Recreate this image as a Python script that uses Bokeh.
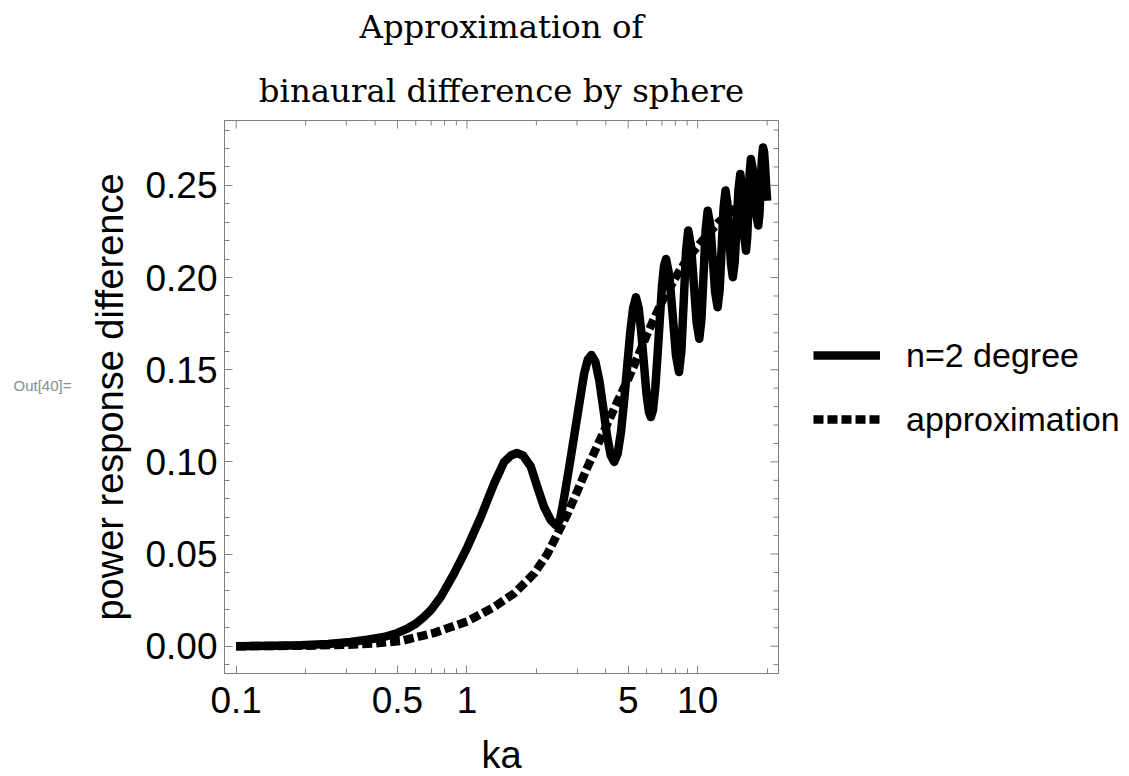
import math
from bokeh.plotting import figure
from bokeh.layouts import row, column
from bokeh.models import (FixedTicker, Legend, LegendItem, NumeralTickFormatter, Range1d)
from bokeh.embed import file_html
from bokeh.resources import INLINE

# ---------------- data ----------------
title_lines = ["Approximation of", "binaural difference by sphere"]
x_label = "ka"
y_label = "power response difference"
out_label = "Out[40]="
series_names = ["n=2 degree", "approximation"]

x_major = [0.1, 0.5, 1, 5, 10]
x_major_labels = ["0.1", "0.5", "1", "5", "10"]
x_minor = [0.2, 0.3, 0.4, 0.6, 0.7, 0.8, 0.9, 2, 3, 4, 6, 7, 8, 9, 20]
y_major = [0.0, 0.05, 0.10, 0.15, 0.20, 0.25]
y_minor = [-0.01, 0.01, 0.02, 0.03, 0.04, 0.06, 0.07, 0.08, 0.09,
           0.11, 0.12, 0.13, 0.14, 0.16, 0.17, 0.18, 0.19,
           0.21, 0.22, 0.23, 0.24, 0.26, 0.27, 0.28]

# n=2 degree (solid)
exact_x = [0.1, 0.15, 0.19, 0.25, 0.313, 0.37, 0.437, 0.5, 0.552, 0.6, 0.651, 0.7,
           0.77, 0.879, 1.005, 1.148, 1.311, 1.449, 1.55, 1.645, 1.75, 1.891, 2.02,
           2.16, 2.31, 2.43, 2.53, 2.64, 2.82, 3.02, 3.22, 3.34, 3.46, 3.6, 3.75,
           3.9, 4.05, 4.2, 4.35, 4.5, 4.65, 4.8, 4.95, 5.1, 5.25, 5.4, 5.55, 5.7,
           5.85, 6.0, 6.15, 6.27, 6.4, 6.55, 6.7, 6.85, 7.0, 7.15, 7.29, 7.54,
           7.795, 8.05, 8.3, 8.5, 8.7, 8.9, 9.1, 9.365, 9.63, 9.895, 10.16, 10.38,
           10.605, 10.83, 11.05, 11.34, 11.625, 11.91, 12.2, 12.45, 12.7, 12.95,
           13.2, 13.45, 13.7, 13.95, 14.2, 14.475, 14.75, 15.025, 15.3, 15.525,
           15.75, 15.975, 16.2, 16.4, 16.6, 16.8, 17.0, 17.325, 17.65, 17.975,
           18.3, 18.525, 18.75, 18.975, 19.2, 19.4, 19.6, 19.8, 20.0]
exact_y = [0.0, 0.0002, 0.0005, 0.0012, 0.0023, 0.0035, 0.005, 0.0072, 0.0096, 0.0122,
           0.0159, 0.0198, 0.0267, 0.0394, 0.0538, 0.0701, 0.0882, 0.0999, 0.1035,
           0.1048, 0.1035, 0.0975, 0.0863, 0.0755, 0.0683, 0.0656, 0.0685, 0.0809,
           0.1026, 0.1261, 0.1478, 0.1555, 0.158, 0.1545, 0.144, 0.129, 0.114,
           0.1035, 0.100, 0.1045, 0.116, 0.133, 0.152, 0.170, 0.1835, 0.1893,
           0.1835, 0.170, 0.153, 0.137, 0.127, 0.1243, 0.128, 0.140, 0.158, 0.177,
           0.195, 0.2065, 0.2101, 0.2009, 0.1794, 0.1579, 0.1487, 0.1602, 0.1871,
           0.214, 0.2255, 0.2167, 0.1962, 0.1756, 0.1668, 0.1772, 0.2016, 0.2259,
           0.2363, 0.2284, 0.2101, 0.1918, 0.1839, 0.1934, 0.2156, 0.2377, 0.2472,
           0.2402, 0.2237, 0.2072, 0.2002, 0.2086, 0.2282, 0.2478, 0.2562, 0.25,
           0.2354, 0.2208, 0.2146, 0.2221, 0.2395, 0.2568, 0.2643, 0.2589, 0.2463,
           0.2336, 0.2282, 0.2346, 0.2494, 0.2642, 0.2706, 0.268, 0.26, 0.25, 0.2417]

# approximation (dashed)
approx_x = [0.1, 0.2, 0.3, 0.4, 0.516, 0.72, 1.005, 1.311, 1.6, 1.955, 2.235, 2.47,
            2.73, 3.02, 3.33, 3.68, 4.07, 4.5, 5.0, 5.5, 6.07, 7.0, 8.1, 9.0, 10.16,
            12.3, 15.4, 17.6, 20.0]
approx_y = [0.0, 0.0003, 0.0008, 0.0016, 0.0028, 0.0072, 0.0135, 0.0213, 0.0286,
            0.0394, 0.0502, 0.0611, 0.0719, 0.0846, 0.0972, 0.109, 0.121, 0.133,
            0.145, 0.157, 0.170, 0.187, 0.201, 0.210, 0.218, 0.230, 0.240, 0.248,
            0.252]

x_lim = (0.089, 22.4)
y_lim = (-0.0148, 0.2852)

# ---------------- styling / layout ----------------
FRAME = "#808080"
SANS = "Liberation Sans"
SERIF = "DejaVu Serif"
LINE_W = 8.5
DASH = "10 4"

TOTAL_W, TOTAL_H = 1129, 776
LEFT_W, MAIN_W = 84, 698
MAIN_BL, MAIN_BR = 140, 4
RIGHT_W = TOTAL_W - LEFT_W - MAIN_W
TOP_H = 114                     # title strip
FRAME_H = 553
ROW_BT, ROW_BB = 6, 60          # borders above / below the plot frame
ROW_H = ROW_BT + FRAME_H + ROW_BB
BOTTOM_H = TOTAL_H - TOP_H - ROW_H
FRAME_L = LEFT_W + MAIN_BL
FRAME_R_GAP = RIGHT_W + MAIN_BR


def blank_fig(w, h, **kw):
    f = figure(width=w, height=h, title=None, x_axis_location=None,
               y_axis_location=None, outline_line_color=None,
               toolbar_location=None, output_backend="svg", **kw)
    f.grid.visible = False
    return f


# ---- top strip: two-line title centred over the plot frame ----
pt = blank_fig(TOTAL_W, TOP_H, x_range=(0, 1), y_range=(0, TOP_H),
               min_border_left=FRAME_L, min_border_right=FRAME_R_GAP,
               min_border_top=0, min_border_bottom=0)
pt.text(x=[0.5, 0.5], y=[87.2, 23.2], text=title_lines,
        text_align="center", text_baseline="middle", text_font_size="32.4px",
        text_color="black", text_font={"value": SERIF})

# ---- left strip: the "Out[40]=" cell label ----
p0 = blank_fig(LEFT_W, ROW_H, x_range=(0, LEFT_W), y_range=(0, FRAME_H),
               min_border_left=0, min_border_right=0,
               min_border_top=ROW_BT, min_border_bottom=ROW_BB)
p0.text(x=[13], y=[288], text=[out_label], text_align="left", text_baseline="middle",
        text_font_size="15px", text_color="#8c8c8c", text_font={"value": SANS})

# ---- main plot ----
p = figure(width=MAIN_W, height=ROW_H, title=None, x_axis_type="log",
           x_range=Range1d(*x_lim), y_range=Range1d(*y_lim),
           output_backend="svg", toolbar_location=None,
           min_border_left=MAIN_BL, min_border_right=MAIN_BR,
           min_border_top=ROW_BT, min_border_bottom=ROW_BB)
p.grid.visible = False
p.outline_line_color = FRAME

xt = FixedTicker(ticks=x_major, minor_ticks=x_minor)
yt = FixedTicker(ticks=y_major, minor_ticks=y_minor)


def style_axis(ax):
    ax.axis_line_color = FRAME
    ax.major_tick_line_color = FRAME
    ax.minor_tick_line_color = FRAME
    ax.major_tick_in = 8
    ax.major_tick_out = 0
    ax.minor_tick_in = 5
    ax.minor_tick_out = 0
    ax.major_label_text_font = SANS
    ax.major_label_text_color = "black"
    ax.major_label_text_font_size = "37px"
    ax.axis_label_text_font = SANS
    ax.axis_label_text_font_size = "38px"
    ax.axis_label_text_font_style = "normal"
    ax.axis_label_text_color = "black"


xa = p.xaxis[0]
xa.ticker = xt
xa.major_label_overrides = {v: s for v, s in zip(x_major, x_major_labels)}
style_axis(xa)
xa.major_label_standoff = 13

ya = p.yaxis[0]
ya.ticker = yt
ya.formatter = NumeralTickFormatter(format="0.00")
style_axis(ya)
ya.major_label_standoff = 7
ya.axis_label = y_label
ya.axis_label_standoff = 11

# mirrored tick marks on the top and right frame edges (outer half clipped by the frame)
p.scatter(x=x_major, y=[y_lim[1]] * len(x_major), marker="dash", size=16,
          angle=math.pi / 2, line_color=FRAME, line_width=1)
p.scatter(x=x_minor, y=[y_lim[1]] * len(x_minor), marker="dash", size=10,
          angle=math.pi / 2, line_color=FRAME, line_width=1)
p.scatter(x=[x_lim[1]] * len(y_major), y=y_major, marker="dash", size=16,
          line_color=FRAME, line_width=1)
p.scatter(x=[x_lim[1]] * len(y_minor), y=y_minor, marker="dash", size=10,
          line_color=FRAME, line_width=1)

p.line(exact_x, exact_y, line_color="black", line_width=LINE_W,
       line_join="round", line_cap="butt")
p.line(approx_x, approx_y, line_color="black", line_width=LINE_W,
       line_dash=DASH, line_join="round", line_cap="butt")

# ---- right strip: legend (its lines carry the series styles; data lies out of view) ----
p2 = blank_fig(RIGHT_W, ROW_H, x_range=(-2, -1), y_range=(-2, -1),
               min_border_left=0, min_border_right=0,
               min_border_top=ROW_BT, min_border_bottom=ROW_BB)
g1 = p2.line(exact_x, exact_y, line_color="black", line_width=LINE_W, line_cap="butt")
g2 = p2.line(approx_x, approx_y, line_color="black", line_width=LINE_W,
             line_dash=DASH, line_cap="butt")
legend = Legend(items=[LegendItem(label=series_names[0], renderers=[g1]),
                       LegendItem(label=series_names[1], renderers=[g2])],
                location=(31, 234), padding=0, spacing=24,
                glyph_width=67, glyph_height=40, label_height=40,
                label_standoff=26, label_text_font=SANS,
                label_text_font_size="34px", label_text_color="black",
                border_line_color=None, background_fill_alpha=0)
p2.add_layout(legend)

# ---- bottom strip: x axis title, centred under the plot frame ----
p3 = blank_fig(TOTAL_W, BOTTOM_H, x_range=(0, 1), y_range=(0, BOTTOM_H),
               min_border_left=FRAME_L, min_border_right=FRAME_R_GAP,
               min_border_top=0, min_border_bottom=0)
p3.text(x=[0.5], y=[21.2], text=[x_label], text_align="center", text_baseline="middle",
        text_font_size="38px", text_color="black", text_font={"value": SANS})

layout = column(pt, row(p0, p, p2, spacing=0), p3, spacing=0)
open("out.html", "w").write(file_html(layout, INLINE))
